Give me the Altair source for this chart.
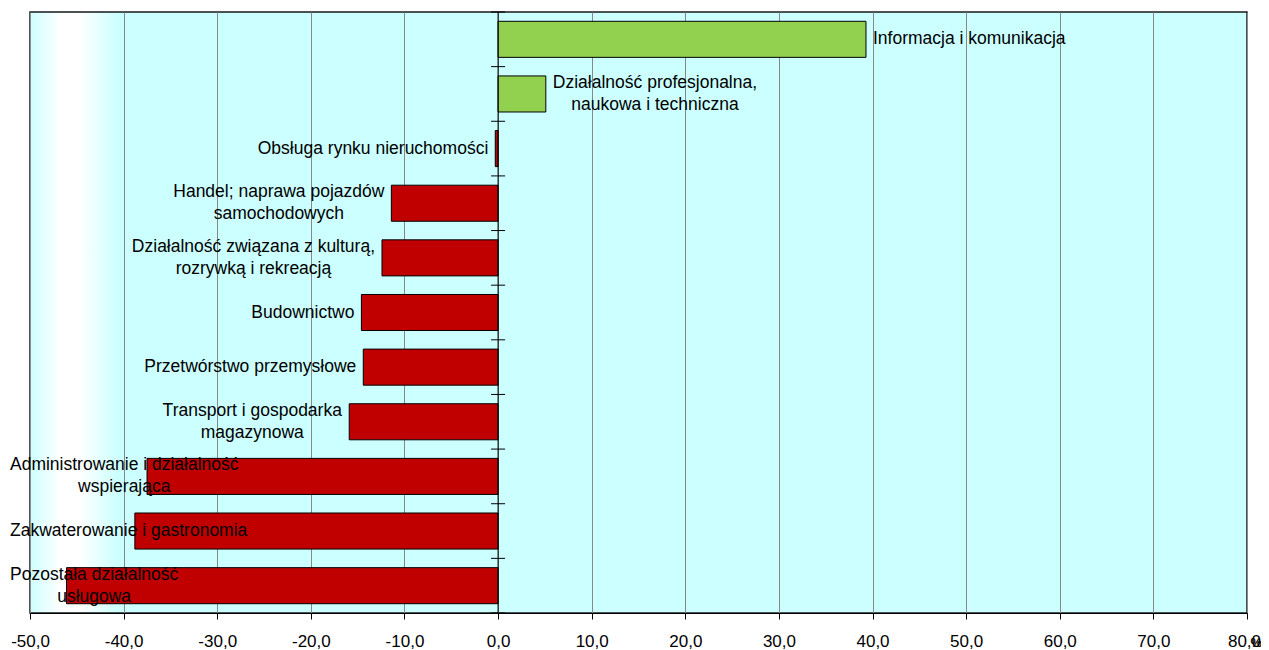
import altair as alt
import pandas as pd

# ---------------- data ----------------
categories = [
    "Informacja i komunikacja",
    "Działalność profesjonalna, naukowa i techniczna",
    "Obsługa rynku nieruchomości",
    "Handel; naprawa pojazdów samochodowych",
    "Działalność związana z kulturą, rozrywką i rekreacją",
    "Budownictwo",
    "Przetwórstwo przemysłowe",
    "Transport i gospodarka magazynowa",
    "Administrowanie i działalność wspierająca",
    "Zakwaterowanie i gastronomia",
    "Pozostała działalność usługowa",
]
label_lines = [
    "Informacja i komunikacja",
    "Działalność profesjonalna,\nnaukowa i techniczna",
    "Obsługa rynku nieruchomości",
    "Handel; naprawa pojazdów\nsamochodowych",
    "Działalność związana z kulturą,\nrozrywką i rekreacją",
    "Budownictwo",
    "Przetwórstwo przemysłowe",
    "Transport i gospodarka\nmagazynowa",
    "Administrowanie i działalność\nwspierająca",
    "Zakwaterowanie i gastronomia",
    "Pozostała działalność\nusługowa",
]
values = [39.3, 5.1, -0.3, -11.4, -12.4, -14.6, -14.4, -15.9, -37.5, -38.8, -46.1]
x_ticks = [-50, -40, -30, -20, -10, 0, 10, 20, 30, 40, 50, 60, 70, 80]

# ---------------- layout ----------------
W, H = 1217, 601
XMIN, XMAX = -50, 80
PPU = W / (XMAX - XMIN)
FONT = "Liberation Sans"
FS = 17.5
GAP = 7
LEFT_LIMIT = -20  # px left of plot area where labels are clamped
LINE_H = 22

# Arial / Liberation Sans advance widths (per 1000 em)
CW = {' ': 278, 'a': 556, 'b': 556, 'c': 500, 'd': 556, 'e': 556, 'f': 278, 'g': 556,
      'h': 556, 'i': 222, 'j': 222, 'k': 500, 'l': 222, 'm': 833, 'n': 556, 'o': 556,
      'p': 556, 'q': 556, 'r': 333, 's': 500, 't': 278, 'u': 556, 'v': 500, 'w': 722,
      'x': 500, 'y': 500, 'z': 500, 'ł': 222, 'ó': 556, 'ś': 500, 'ć': 500, 'ą': 556,
      'ę': 556, 'ż': 500, 'ź': 500, 'ń': 556, 'A': 667, 'B': 667, 'C': 722, 'D': 722,
      'E': 667, 'F': 611, 'G': 778, 'H': 722, 'I': 278, 'O': 778, 'P': 667, 'R': 722,
      'S': 667, 'T': 611, 'Z': 611, ',': 278, ';': 278, '.': 278}


def text_w(s):
    return max(sum(CW.get(ch, 556) for ch in line) for line in s.split("\n")) * FS / 1000


label_x = []
for v, lab in zip(values, label_lines):
    w = text_w(lab)
    end_px = (v - XMIN) * PPU
    if v >= 0:
        c = end_px + GAP + w / 2
    else:
        c = max(end_px - GAP - w / 2, LEFT_LIMIT + w / 2)
    label_x.append(XMIN + c / PPU)

df = pd.DataFrame({"key": categories, "value": values, "label": label_lines, "lx": label_x,
                   "nlines": [lab.count("\n") + 1 for lab in label_lines]})

sort_order = categories
yenc = dict(sort=sort_order, axis=None, scale=alt.Scale(paddingInner=0, paddingOuter=0))

xscale = alt.Scale(domain=[XMIN, XMAX], nice=False)

# gradient artefact at the left of the plot area
grad = alt.LinearGradient(
    gradient="linear",
    stops=[alt.GradientStop(color="#CFFFFF", offset=0),
           alt.GradientStop(color="#FFFFFF", offset=0.34),
           alt.GradientStop(color="#FFFFFF", offset=0.56),
           alt.GradientStop(color="#CCFFFF", offset=1)],
    x1=0, x2=1, y1=0, y2=0)
bg = alt.Chart(pd.DataFrame({"a": [0]})).mark_rect(color=grad).encode(
    x=alt.datum(-49.9), x2=alt.datum(-40.6), y=alt.value(1), y2=alt.value(H - 1))

bars = alt.Chart(df).mark_bar(height={"band": 0.66}, stroke="black", strokeWidth=1).encode(
    x=alt.X("value:Q", scale=xscale,
            axis=alt.Axis(values=x_ticks, grid=True, gridColor="#888888", gridWidth=1,
                          tickColor="black", tickSize=6, domainColor="black",
                          labelExpr="replace(replace(format(datum.value, '.1f'), '.', ','), '\u2212', '-')",
                          labelFont=FONT, labelFontSize=17, labelColor="black",
                          labelPadding=14, labelFlush=False, labelOverlap=False,
                          labelOffset={"condition": {"test": "datum.value == 80", "value": -3},
                                       "value": 0},
                          title="%", titleX=1220, titleY=23, titleAlign="left",
                          titleBaseline="top", titleFont=FONT, titleFontSize=13,
                          titleFontWeight="bold", titleColor="black")),
    y=alt.Y("key:N", **yenc),
    color=alt.condition(alt.datum.value > 0, alt.value("#92D050"), alt.value("#C00000")),
)

zero_line = alt.Chart(pd.DataFrame({"a": [0]})).mark_rule(color="black", strokeWidth=1).encode(
    x=alt.datum(0))

ticks_top = alt.Chart(df).mark_rule(color="black", strokeWidth=1).encode(
    x=alt.datum(-0.75), x2=alt.datum(0.75),
    y=alt.Y("key:N", bandPosition=0, **yenc))
ticks_bottom = alt.Chart(df.tail(1)).mark_rule(color="black", strokeWidth=1).encode(
    x=alt.datum(-0.75), x2=alt.datum(0.75),
    y=alt.Y("key:N", bandPosition=1, **yenc))

text_style = dict(align="center", baseline="middle", lineBreak="\n", lineHeight=LINE_H,
                  font=FONT, fontSize=FS, color="black")
labels1 = alt.Chart(df).transform_filter(alt.datum.nlines == 1).mark_text(**text_style).encode(
    x=alt.X("lx:Q", scale=xscale), y=alt.Y("key:N", **yenc), text="label:N")
labels2 = alt.Chart(df).transform_filter(alt.datum.nlines == 2).mark_text(
    dy=-LINE_H / 2, **text_style).encode(
    x=alt.X("lx:Q", scale=xscale), y=alt.Y("key:N", **yenc), text="label:N")

chart = alt.layer(bg, bars, zero_line, ticks_top, ticks_bottom, labels1, labels2).properties(
    width=W, height=H,
    autosize=alt.AutoSizeParams(type="none"),
    padding={"left": 22, "top": 4, "right": 14, "bottom": 37},
).configure_view(fill="#CCFFFF", stroke="#1a1a1a", strokeWidth=1.5)

chart.save("out.html", embed_options={"renderer": "svg", "actions": False})
